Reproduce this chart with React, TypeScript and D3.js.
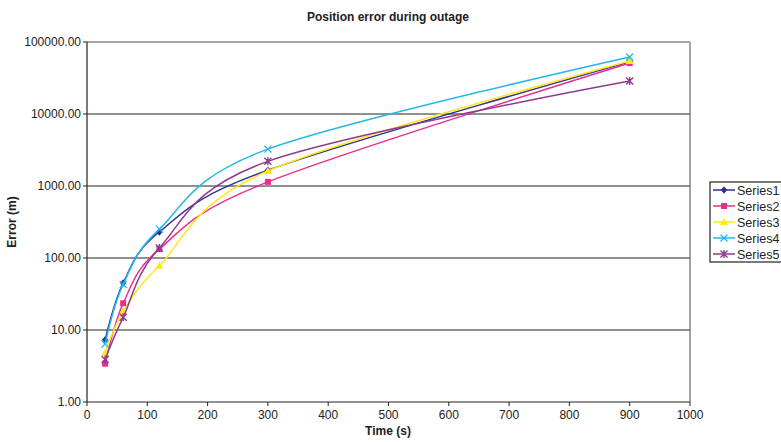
import { useMemo } from 'react';
import * as d3 from 'd3';

const times = [30, 60, 120, 300, 900];
const seriesNames = ['Series1', 'Series2', 'Series3', 'Series4', 'Series5'];
const series1 = [7.3, 45, 230, 1660, 53000];
const series2 = [3.4, 23.5, 133, 1140, 51000];
const series3 = [4.8, 18, 78, 1620, 54500];
const series4 = [6.4, 43, 252, 3250, 62000];
const series5 = [3.9, 15, 138, 2200, 28700];
const seriesColors = ['#2e3192', '#ec2d8f', '#ffe81a', '#22b8ec', '#8e3a8e'];
const markers = ['diamond', 'square', 'triangle', 'cross', 'star'];
const xTicks = [0, 100, 200, 300, 400, 500, 600, 700, 800, 900, 1000];
const yTicks = [1, 10, 100, 1000, 10000, 100000];

const W = 781;
const H = 442;
const left = 87;
const right = 690;
const top = 42;
const bottom = 402;
const font = "'Liberation Sans Narrow', 'Liberation Sans', Arial, sans-serif";

const Marker = ({ type, x, y, color }: { type: string; x: number; y: number; color: string }) => {
  const s = 3.2;
  if (type === 'diamond') return <path d={`M${x},${y - s - 0.5}L${x + s},${y}L${x},${y + s + 0.5}L${x - s},${y}Z`} fill={color} />;
  if (type === 'square') return <rect x={x - 3} y={y - 3} width={6} height={6} fill={color} />;
  if (type === 'triangle') return <path d={`M${x},${y - 4}L${x + 4},${y + 3}L${x - 4},${y + 3}Z`} fill={color} />;
  if (type === 'cross')
    return <path d={`M${x - 3.5},${y - 3.5}L${x + 3.5},${y + 3.5}M${x + 3.5},${y - 3.5}L${x - 3.5},${y + 3.5}`} stroke={color} strokeWidth={1.3} />;
  return (
    <path
      d={`M${x - 3.5},${y - 3.5}L${x + 3.5},${y + 3.5}M${x + 3.5},${y - 3.5}L${x - 3.5},${y + 3.5}M${x},${y - 4}L${x},${y + 4}`}
      stroke={color}
      strokeWidth={1.4}
    />
  );
};

export default function App() {
  const xScale = useMemo(() => d3.scaleLinear().domain([0, 1000]).range([left, right]), []);
  const yScale = useMemo(() => d3.scaleLog().domain([1, 100000]).range([bottom, top]), []);
  const allSeries = [series1, series2, series3, series4, series5];

  // Excel-style smoothing: uniform Catmull-Rom
  const line = d3
    .line<number>()
    .x((_, i) => xScale(times[i]))
    .y((d) => yScale(d))
    .curve(d3.curveCatmullRom.alpha(0));

  return (
    <svg width={W} height={H} style={{ position: 'absolute', left: 0, top: 0 }} fontFamily={font}>
      <rect width={W} height={H} fill="#fff" />
      <text x={388} y={21} textAnchor="middle" fontSize={12} fontWeight="bold" fill="#222">
        Position error during outage
      </text>

      {/* plot border */}
      <line x1={left} x2={right} y1={top} y2={top} stroke="#8a8a8a" strokeWidth={1.5} />
      <line x1={right} x2={right} y1={top} y2={bottom} stroke="#8a8a8a" strokeWidth={1.5} />

      {/* grid */}
      {yTicks.slice(1, -1).map((t) => (
        <line key={t} x1={left} x2={right} y1={yScale(t)} y2={yScale(t)} stroke="#222" strokeWidth={1.2} />
      ))}

      {/* axes */}
      <line x1={left} x2={left} y1={top} y2={bottom} stroke="#222" strokeWidth={1.2} />
      <line x1={left} x2={right} y1={bottom} y2={bottom} stroke="#222" strokeWidth={1.2} />
      {yTicks.map((t) => (
        <g key={t}>
          <line x1={left - 4} x2={left} y1={yScale(t)} y2={yScale(t)} stroke="#222" />
          <text x={left - 6} y={yScale(t) + 4} textAnchor="end" fontSize={12} fill="#222">
            {t.toFixed(2)}
          </text>
        </g>
      ))}
      {xTicks.map((t) => (
        <g key={t}>
          <line x1={xScale(t)} x2={xScale(t)} y1={bottom} y2={bottom + 4} stroke="#222" />
          <text x={xScale(t)} y={bottom + 17} textAnchor="middle" fontSize={12} fill="#222">
            {t}
          </text>
        </g>
      ))}
      <text x={388} y={435} textAnchor="middle" fontSize={12} fontWeight="bold" fill="#222">
        Time (s)
      </text>
      <text transform="translate(16,222) rotate(-90)" textAnchor="middle" fontSize={12} fontWeight="bold" fill="#222">
        Error (m)
      </text>

      {/* series */}
      {allSeries.map((s, k) => (
        <g key={k}>
          <path d={line(s) ?? ''} fill="none" stroke={seriesColors[k]} strokeWidth={1.5} />
          {s.map((v, i) => (
            <Marker key={i} type={markers[k]} x={xScale(times[i])} y={yScale(v)} color={seriesColors[k]} />
          ))}
        </g>
      ))}

      {/* legend */}
      <rect x={710} y={182} width={80} height={80} fill="#fff" stroke="#222" strokeWidth={1.2} />
      {seriesNames.map((n, k) => {
        const ly = 190 + k * 16;
        return (
          <g key={n}>
            <line x1={713} x2={735} y1={ly} y2={ly} stroke={seriesColors[k]} strokeWidth={1.5} />
            <Marker type={markers[k]} x={724} y={ly} color={seriesColors[k]} />
            <text x={737} y={ly + 4.5} fontSize={12.5} fill="#222">
              {n}
            </text>
          </g>
        );
      })}
    </svg>
  );
}
